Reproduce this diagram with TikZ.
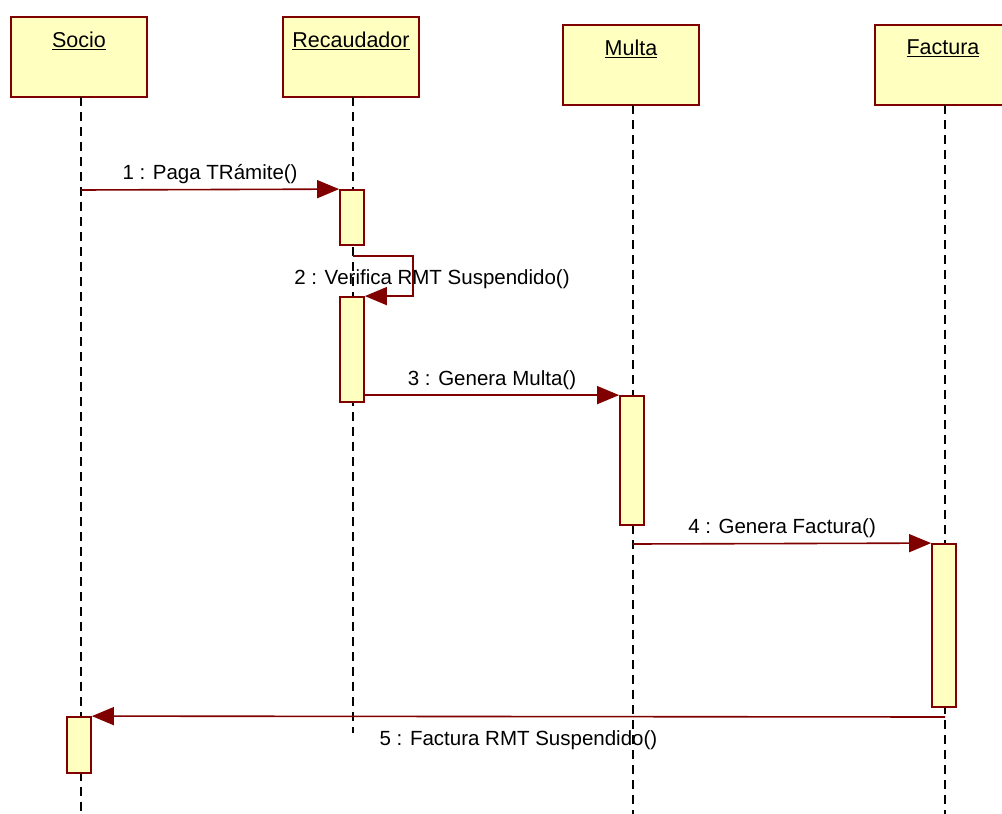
\documentclass[tikz,border=0pt]{standalone}
\usepackage{fontspec}
\setmainfont{Liberation Sans}
\usepackage{tikz}
\usetikzlibrary{arrows.meta,calc}

\definecolor{umlred}{RGB}{128,0,0}
\definecolor{umlfill}{RGB}{255,255,192}

\tikzset{
    actor/.style={draw=umlred, line width=2pt, fill=umlfill, minimum width=136pt, minimum height=80pt, inner sep=0pt},
    title/.style={anchor=north, inner sep=0pt, yshift=-15.5pt, font=\fontsize{21.5}{25}\selectfont},
    act/.style={draw=umlred, line width=1.8pt, fill=umlfill, minimum width=24pt, inner sep=0pt},
    life/.style={black, line width=1.4pt, dash pattern=on 9pt off 6pt},
    msg/.style={umlred, line width=1.6pt, -{Triangle[length=22pt,width=18pt]}},
    msglabel/.style={text=black, inner sep=5pt, font=\fontsize{20.5}{24}\selectfont}
}

\begin{document}
\begin{tikzpicture}[x=1pt,y=-1pt]
            \clip (0,0) rectangle (1002,814);
            \fill[white] (0,0) rectangle (1002,814);
            % objects
            \node[actor] (socio) at (79,57) {};
            \node[actor] (recaudador) at (351,57) {};
            \node[actor] (multa) at (631,65) {};
            \node[actor] (factura) at (943,65) {};
            \node[title] at (socio.north) {\underline{Socio}};
            \node[title] at (recaudador.north) {\underline{Recaudador}};
            \node[title] at (multa.north) {\underline{Multa}};
            \node[title] at (factura.north) {\underline{Factura}};
            % lifelines
            \draw[life] (81,97) -- (81,814);
            \draw[life] (353,97) -- (353,733);
            \draw[life] (633,105) -- (633,814);
            \draw[life] (945,105) -- (945,814);
            % activations
            \node[act, minimum height=55pt] (rec1) at (352,217.5) {};
            \node[act, minimum height=105pt] (rec2) at (352,349.5) {};
            \node[act, minimum height=129pt] (mul1) at (632,460.5) {};
            \node[act, minimum height=163pt] (fac1) at (944,625.5) {};
            \node[act, minimum height=56pt] (soc1) at (79,745) {};
            % messages
            \coordinate (m1) at (81,190);
            \coordinate (m2a) at (353,256);
            \coordinate (m2b) at (413,256);
            \coordinate (m4) at (633,544);
            \coordinate (m5) at (945,717);
            \draw[msg] (m1) -- (rec1.north west) node[midway, above, msglabel] {1 : Paga TRámite()};
            \draw[msg] (m2a) -- (m2b) |- (rec2.north east);
            \node[msglabel] at (432,279) {2 : Verifica RMT Suspendido()};
            \draw[msg] (rec2.south east |- mul1.north west) -- (mul1.north west) node[midway, above, msglabel] {3 : Genera Multa()};
            \draw[msg] (m4) -- (fac1.north west) node[midway, above, msglabel] {4 : Genera Factura()};
            \draw[msg] (m5) -- (soc1.north east) node[midway, below, msglabel, yshift=-8pt] {5 : Factura RMT Suspendido()};
        \end{tikzpicture}
\end{document}
